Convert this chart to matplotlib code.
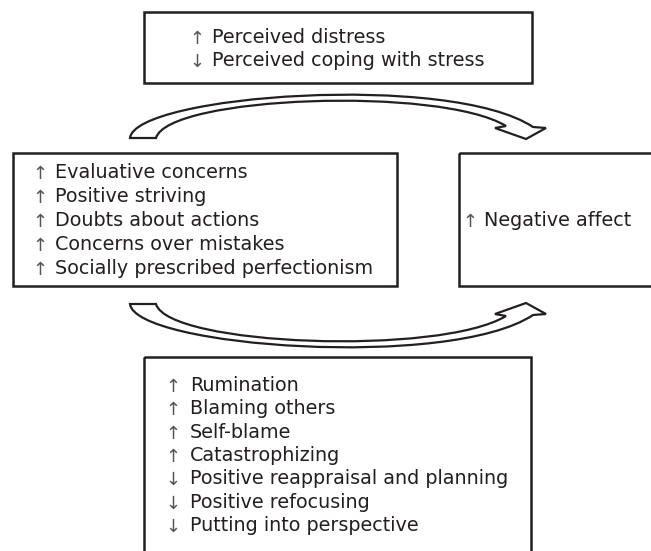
import matplotlib.pyplot as plt
from matplotlib.patches import Rectangle, PathPatch
from matplotlib.path import Path

# box contents: (arrow, label)
stress_lines = [("↑", "Perceived distress"), ("↓", "Perceived coping with stress")]
perfection_lines = [("↑", "Evaluative concerns"), ("↑", "Positive striving"),
                    ("↑", "Doubts about actions"), ("↑", "Concerns over mistakes"),
                    ("↑", "Socially prescribed perfectionism")]
affect_lines = [("↑", "Negative affect")]
coping_lines = [("↑", "Rumination"), ("↑", "Blaming others"), ("↑", "Self-blame"),
                ("↑", "Catastrophizing"), ("↓", "Positive reappraisal and planning"),
                ("↓", "Positive refocusing"), ("↓", "Putting into perspective")]

EDGE = '#231f20'
FS = 13.8

fig = plt.figure(figsize=(6.51, 5.51), dpi=100)
ax = fig.add_axes([0, 0, 1, 1])
ax.set_xlim(0, 651)
ax.set_ylim(551, 0)
ax.axis('off')


def box(x0, y0, x1, y1):
    ax.add_patch(Rectangle((x0, y0), x1 - x0, y1 - y0, fill=False,
                           lw=1.8, edgecolor=EDGE, clip_on=False))


def lines(items, xa, xt, y0, step):
    for i, (arr, lab) in enumerate(items):
        y = y0 + i * step
        ax.text(xa, y + 1, arr, fontsize=13, ha='center', va='baseline',
                color='#555555')
        ax.text(xt, y, lab, fontsize=FS, ha='left', va='baseline', color=EDGE)


# boxes
box(144, 12, 532, 83)
box(13, 153, 397, 286)
box(459, 153, 665, 286)
box(144, 357, 531, 570)

lines(stress_lines, 197, 212, 43, 22.5)
lines(perfection_lines, 40, 55, 178, 24)
lines(affect_lines, 470, 484, 226, 24)
lines(coping_lines, 173, 190, 391, 23.3)


# curved block arrows
def arrow(flip):
    pts = [(130, 138), (135, 95), (450, 72), (533, 127),
           (546, 128), (526, 139), (495, 128), (506, 126),
           (440, 86), (168, 96), (156, 138), (130, 138)]
    codes = [Path.MOVETO, Path.CURVE4, Path.CURVE4, Path.CURVE4,
             Path.LINETO, Path.LINETO, Path.LINETO, Path.LINETO,
             Path.CURVE4, Path.CURVE4, Path.CURVE4, Path.CLOSEPOLY]
    if flip:
        pts = [(x, 442 - y) for x, y in pts]
    ax.add_patch(PathPatch(Path(pts, codes), facecolor='white',
                           edgecolor=EDGE, lw=1.6, joinstyle='miter'))


arrow(False)
arrow(True)

fig.savefig('out.png', dpi=100)
